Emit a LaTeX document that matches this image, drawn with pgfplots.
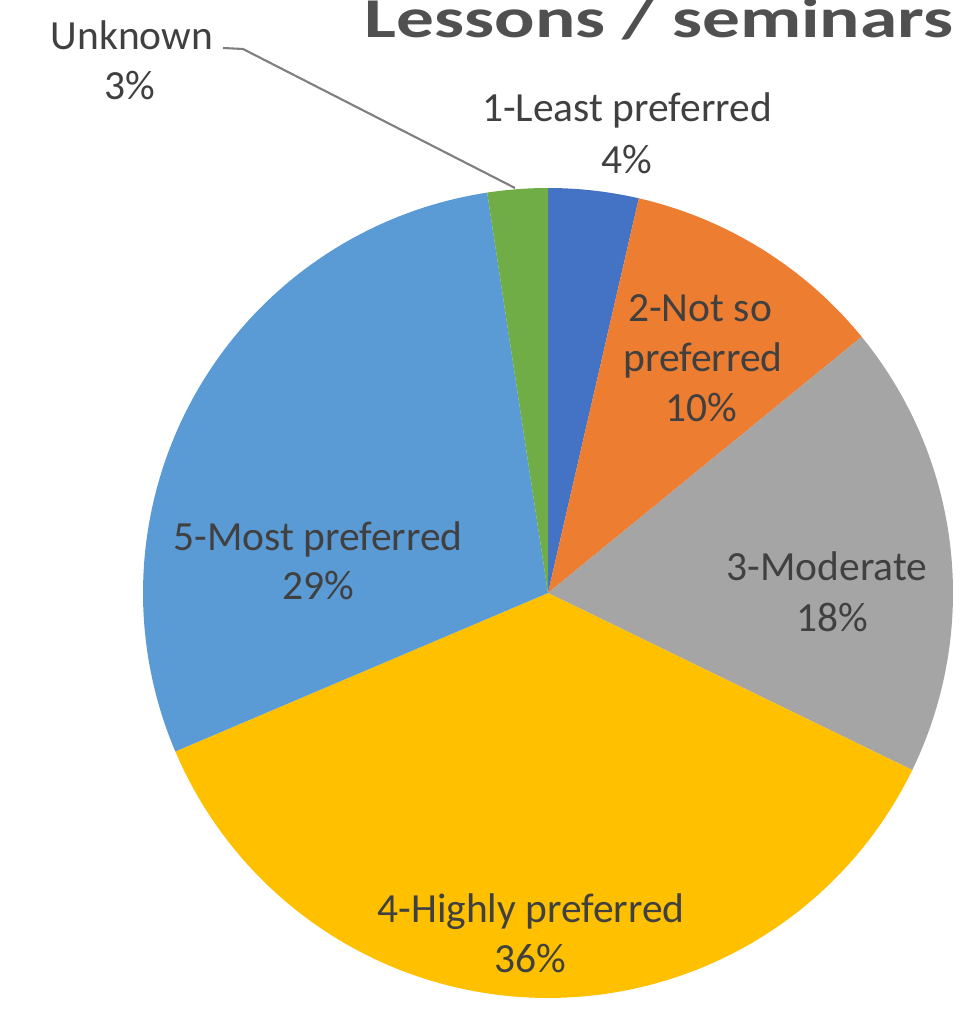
\documentclass[border=0pt]{standalone}
\usepackage{pgfplots}
\usepackage{pgfplotstable}
\pgfplotsset{compat=1.18}
\usepackage{graphicx}
\usepackage{fontspec}
\setmainfont{Carlito}

\definecolor{pie0}{HTML}{4472C4}
\definecolor{pie1}{HTML}{ED7D31}
\definecolor{pie2}{HTML}{A5A5A5}
\definecolor{pie3}{HTML}{FFC000}
\definecolor{pie4}{HTML}{5B9BD5}
\definecolor{pie5}{HTML}{70AD47}
\definecolor{lbl}{HTML}{404040}
\definecolor{ttl}{HTML}{505050}
\definecolor{leader}{HTML}{7F7F7F}

% share of each category in percent, clockwise from 12 o'clock
\pgfplotstableread{
category value
1-Least 3.6
2-NotSo 10.5
3-Moderate 18.1
4-Highly 36.4
5-Most 29.0
Unknown 2.4
}\piedata

\begin{document}
\begin{tikzpicture}
\useasboundingbox (0,0) rectangle (9.74cm,10.1cm);
\clip (0,0) rectangle (9.74cm,10.1cm);
\xdef\cum{0}
\foreach \i in {0,...,5}{%
  \pgfplotstablegetelem{\i}{value}\of\piedata
  \pgfmathsetmacro{\a}{90-3.6*\cum}%
  \pgfmathsetmacro{\newcum}{\cum+\pgfplotsretval}%
  \pgfmathsetmacro{\b}{90-3.6*\newcum}%
  \expandafter\xdef\csname pieA\i\endcsname{\a}%
  \expandafter\xdef\csname pieB\i\endcsname{\b}%
  \xdef\cum{\newcum}%
}
\begin{axis}[at={(0,0)}, anchor=south west, scale only axis,
  width=9.74cm, height=10.1cm,
  xmin=0, xmax=974, ymin=0, ymax=1010,
  hide axis, clip=false]
\pgfplotsinvokeforeach{0,...,5}{%
  \addplot[fill=pie#1, draw=none, samples=90, variable=\t,
    domain=\csname pieB#1\endcsname:\csname pieA#1\endcsname]
    ({548+405*cos(\t)},{417+405*sin(\t)}) -- (axis cs:548,417) -- cycle;
}
% leader line for Unknown
\addplot[leader, line width=0.6pt, no marks] coordinates {(223,962) (243,961) (515,822)};

\begin{scope}[every node/.style={anchor=base, inner sep=0pt, text=lbl,
    font=\fontsize{11.8}{14}\selectfont}]
\node at (axis cs:132,960) {Unknown};
\node at (axis cs:130,910) {3\%};
\node at (axis cs:627,888) {1-Least preferred};
\node at (axis cs:627,836) {4\%};
\node at (axis cs:700,688) {2-Not so};
\node at (axis cs:703,638) {preferred};
\node at (axis cs:701,588) {10\%};
\node at (axis cs:827,430) {3-Moderate};
\node at (axis cs:832,379) {18\%};
\node at (axis cs:531,88) {4-Highly preferred};
\node at (axis cs:530,38) {36\%};
\node at (axis cs:318,460) {5-Most preferred};
\node at (axis cs:318,410) {29\%};
\end{scope}
\node[anchor=base west, inner sep=0pt, text=ttl,
  font=\bfseries\fontsize{16}{19}\selectfont] at (axis cs:364,972)
  {\scalebox{1.34}[1]{Lessons / seminars (}};
\end{axis}
\end{tikzpicture}
\end{document}
